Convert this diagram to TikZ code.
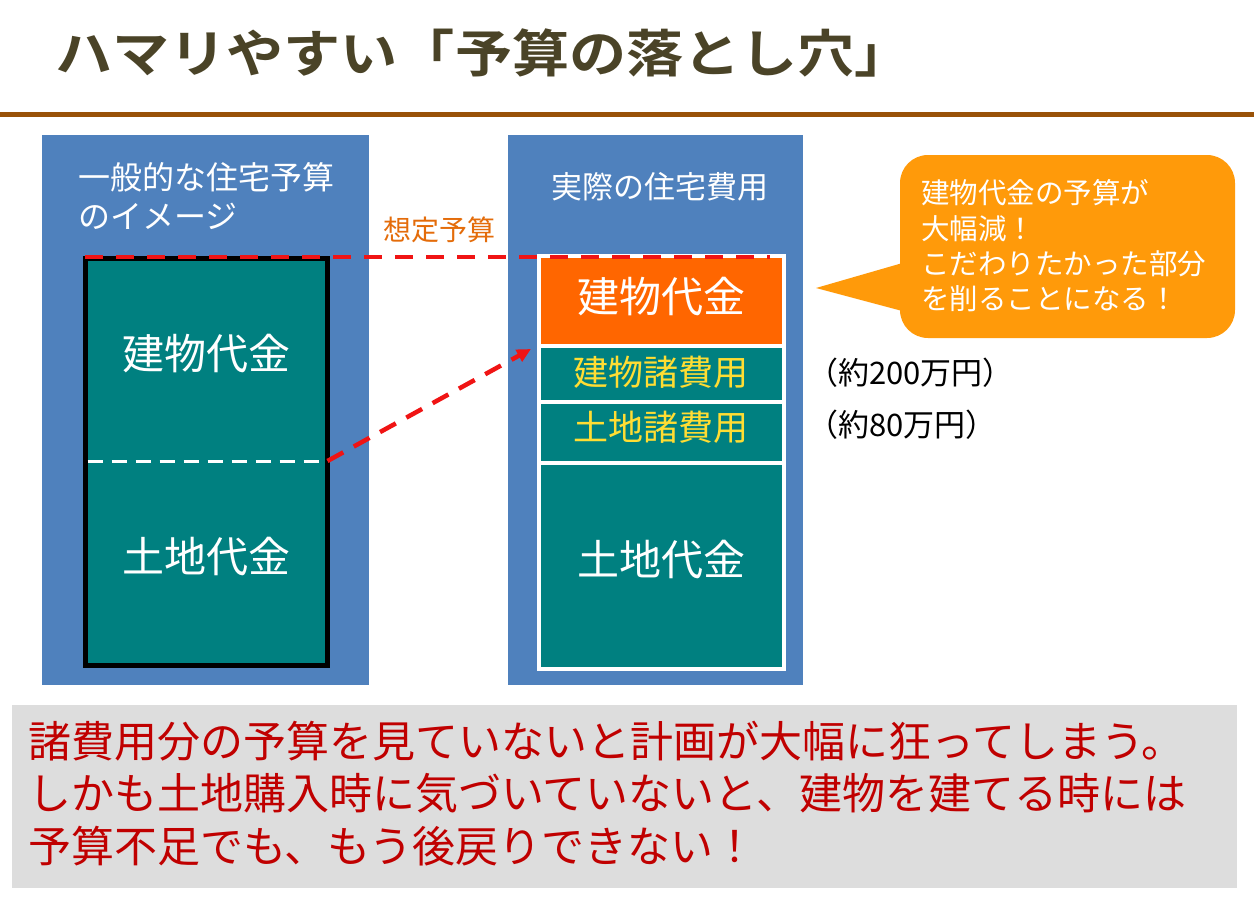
\documentclass[tikz,border=0pt]{standalone}
\usepackage{fontspec}
\newfontfamily\jp{Noto Sans CJK JP}[BoldFont={Noto Sans CJK JP Bold}]
\usetikzlibrary{arrows.meta}
\definecolor{panelblue}{HTML}{4F81BD}
\definecolor{tealbox}{HTML}{008080}
\definecolor{orangebox}{HTML}{FF6600}
\definecolor{callorange}{HTML}{FF9A0A}
\definecolor{budget}{HTML}{E46C0A}
\definecolor{yellowtxt}{HTML}{FFDD33}
\definecolor{titlecol}{HTML}{4A4327}
\definecolor{rulebrown}{HTML}{995208}
\definecolor{graybg}{HTML}{DDDDDD}
\definecolor{warnred}{HTML}{C00000}
\definecolor{dashred}{HTML}{F01414}
\begin{document}
\begin{tikzpicture}[x=1pt,y=-1pt,
  blk/.style={rectangle,inner sep=0pt,outer sep=0pt,anchor=north west},
  panel/.style={blk,fill=panelblue},
  cell/.style={blk,fill=tealbox},
  bigtxt/.style={text=white,font=\jp\fontsize{42}{46}\selectfont},
  feetxt/.style={text=yellowtxt,font=\jp\fontsize{35}{40}\selectfont},
  reddash/.style={draw=dashred,line width=4.5pt,dash pattern=on 18pt off 13pt}
]
\useasboundingbox (0,0) rectangle (1254,897);
\fill[white] (0,0) rectangle (1254,897);

% title and rule
\node[anchor=west,inner sep=0pt,text=titlecol] (title) at (55,53)
  {\jp\bfseries\fontsize{51}{60}\selectfont\addfontfeature{FakeStretch=1.12}ハマリやすい「予算の落とし穴」};
\draw[rulebrown,line width=5pt] (0,114.5) -- (1254,114.5);

% panels
\node[panel,minimum width=327pt,minimum height=550pt] (lpanel) at (42,135) {};
\node[panel,minimum width=295pt,minimum height=550pt] (rpanel) at (508,135) {};

\node[anchor=west,inner sep=0pt,align=left,text=white,font=\jp\fontsize{32}{39}\selectfont] (ltitle) at (78,196.5)
  {一般的な住宅予算\\のイメージ};
\node[inner sep=0pt,text=white,font=\jp\fontsize{31}{36}\selectfont] (rtitle) at (660,187) {実際の住宅費用};

% left budget box
\node[blk,fill=tealbox,draw=black,line width=5pt,minimum width=242.5pt,minimum height=407pt] (lbox) at (85,258) {};
\coordinate (divL) at (87.5,461);
\coordinate (divR) at (327.5,461);
\draw[white,line width=3pt,dash pattern=on 15pt off 9pt] (divL) -- (divR);
\node[bigtxt,inner sep=0pt] (lbuild) at (206,354) {建物代金};
\node[bigtxt,inner sep=0pt] (lland) at (206,557) {土地代金};

% right cost stack
\node[blk,fill=white,minimum width=249pt,minimum height=417pt] (rframe) at (537,254) {};
\node[blk,fill=orangebox,minimum width=241pt,minimum height=86pt] (rbuild) at (541,258) {};
\node[bigtxt,inner sep=0pt] at (661,297) {建物代金};
\node[cell,minimum width=241pt,minimum height=52pt] (rbfee) at (541,348) {};
\node[feetxt,inner sep=0pt] at (661,372) {建物諸費用};
\node[cell,minimum width=241pt,minimum height=57pt] (rlfee) at (541,404) {};
\node[feetxt,inner sep=0pt] at (661,427) {土地諸費用};
\node[cell,minimum width=241pt,minimum height=202pt] (rland) at (541,465) {};
\node[bigtxt,inner sep=0pt] at (661,560) {土地代金};

% budget line and arrow
\coordinate (budgetend) at (770,257);
\draw[reddash] (lbox.north west) ++(0,-1) -- (budgetend);
\node[inner sep=0pt,text=budget,font=\jp\fontsize{28}{32}\selectfont] (budgetlbl) at (439,230) {想定予算};
\coordinate (atip) at (531,349);
\draw[reddash,dash pattern=on 18pt off 12pt,-{Triangle[length=14pt,width=13pt]}] (divR) -- (atip);

% callout
\node[blk,fill=callorange,rounded corners=28pt,minimum width=335pt,minimum height=183pt] (callout) at (900,155) {};
\coordinate (ctip) at (816,288);
\fill[callorange] (ctip) -- (906,262) -- (906,312) -- cycle;
\node[anchor=west,inner sep=0pt,align=left,text=white,font=\jp\fontsize{28.5}{35.3}\selectfont] (calltxt) at (921,246)
  {建物代金の予算が\\大幅減！\\こだわりたかった部分\\を削ることになる！};

% amounts
\node[anchor=west,inner sep=0pt,font=\jp\fontsize{31}{36}\selectfont] (amt1) at (807,373) {（約200万円）};
\node[anchor=west,inner sep=0pt,font=\jp\fontsize{31}{36}\selectfont] (amt2) at (807,425) {（約80万円）};

% bottom note
\node[blk,fill=graybg,minimum width=1225pt,minimum height=183pt] (note) at (12,705) {};
\node[anchor=west,inner sep=0pt,align=left,text=warnred,font=\jp\fontsize{43}{52.5}\selectfont] (notetxt) at (28,793.5)
  {諸費用分の予算を見ていないと計画が大幅に狂ってしまう。\\しかも土地購入時に気づいていないと、建物を建てる時には\\予算不足でも、もう後戻りできない！};
\end{tikzpicture}
\end{document}
